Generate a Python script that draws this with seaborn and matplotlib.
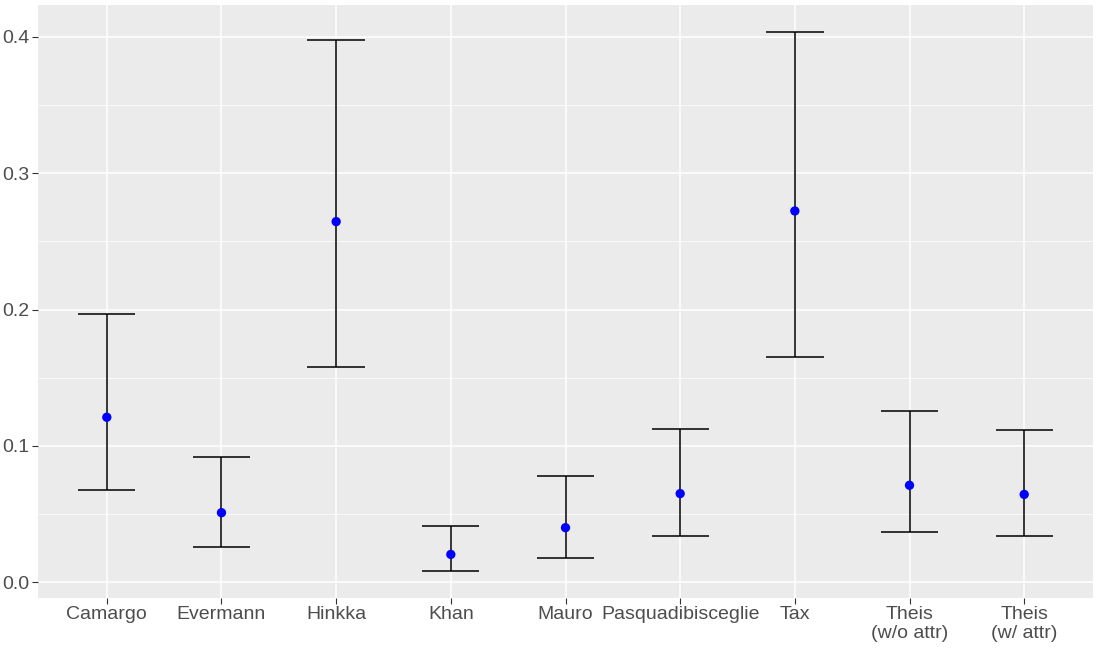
import pandas as pd
import matplotlib.pyplot as plt
import seaborn as sns
from matplotlib.ticker import MultipleLocator

# Valores
metodos = ['Camargo', 'Evermann', 'Hinkka', 'Khan', 'Mauro', 'Pasquadibisceglie',
           'Tax', 'Theis\n(w/o attr)', 'Theis\n(w/ attr)']
media = [0.121, 0.051, 0.2645, 0.0204, 0.040, 0.065, 0.2723, 0.0711, 0.0644]
limite_inf = [0.0678, 0.0255, 0.1581, 0.0082, 0.0180, 0.0340, 0.1650, 0.0368, 0.0337]
limite_sup = [0.1964, 0.0915, 0.3976, 0.0410, 0.0782, 0.1125, 0.4036, 0.1255, 0.1119]

df = pd.DataFrame({'metodo': metodos, 'media': media,
                   'inf': limite_inf, 'sup': limite_sup})

sns.set_theme(style='darkgrid', rc={
    'axes.facecolor': '#EBEBEB',
    'grid.color': 'white',
    'axes.edgecolor': 'none',
    'figure.facecolor': 'white',
})
plt.rcParams['font.family'] = ['Liberation Sans', 'DejaVu Sans']

fig = plt.figure(figsize=(11, 6.5), dpi=100)
ax = fig.add_axes([38 / 1100, 52 / 650, 1055 / 1100, 593 / 650])

# barras de erro (linha vertical + tampas)
pos = range(len(df))
ax.vlines(pos, df['inf'], df['sup'], color='black', lw=1.1, zorder=3)
ax.hlines(df['inf'], [p - 0.25 for p in pos], [p + 0.25 for p in pos],
          color='black', lw=1.1, zorder=3)
ax.hlines(df['sup'], [p - 0.25 for p in pos], [p + 0.25 for p in pos],
          color='black', lw=1.1, zorder=3)

sns.scatterplot(data=df, x='metodo', y='media', color='blue', s=45,
                edgecolor='none', zorder=4, ax=ax)

# escalas no estilo ggplot
ymin = min(limite_inf)
ymax = max(limite_sup)
margem = 0.05 * (ymax - ymin)
ax.set_ylim(ymin - margem, ymax + margem)
ax.set_xlim(-0.6, len(df) - 1 + 0.6)
ax.yaxis.set_major_locator(MultipleLocator(0.1))
ax.yaxis.set_minor_locator(MultipleLocator(0.05))
ax.yaxis.set_major_formatter(plt.FuncFormatter(lambda v, _: f'{v:.1f}'))
ax.grid(which='major', color='white', lw=1.1)
ax.grid(which='minor', axis='y', color='white', lw=0.55)
ax.set_axisbelow(True)

ax.set_xlabel('')
ax.set_ylabel('')
ax.tick_params(axis='both', which='major', length=4, width=0.8, color='#333333',
               labelsize=14, labelcolor='#4D4D4D', pad=2, left=True, bottom=True)
ax.tick_params(axis='y', which='minor', length=0)
for lbl in ax.get_xticklabels():
    lbl.set_linespacing(1.15)
for s in ax.spines.values():
    s.set_visible(False)

fig.savefig('out.png', dpi=100)
plt.close(fig)
